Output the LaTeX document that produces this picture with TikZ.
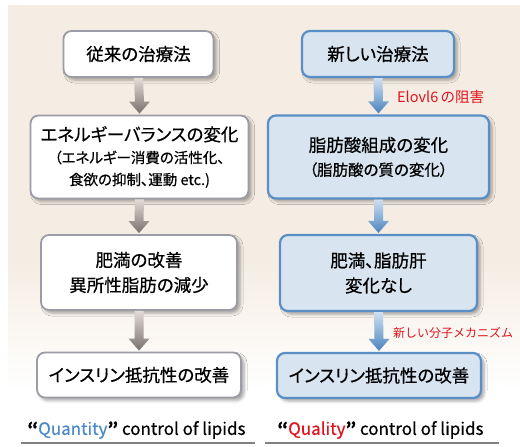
\documentclass[tikz,border=0pt]{standalone}
\usepackage{fontspec}
\setmainfont{Noto Sans CJK JP}
\newfontfamily\boxfont{Noto Sans CJK JP}[RawFeature=+palt, FakeBold=0.6]
\newfontfamily\capfont{Noto Sans CJK JP}[FakeBold=0.4]
\usetikzlibrary{calc,shadows.blur}
\definecolor{bg}{HTML}{F5EDE3}
\definecolor{lgray}{HTML}{9C9CA6}
\definecolor{rblue}{HTML}{5A8FC6}
\definecolor{rfill}{HTML}{D8E4F0}
\definecolor{labred}{HTML}{E0141E}
\definecolor{qblue}{HTML}{4A8AC8}
\definecolor{arlgt}{HTML}{E2DBD6}
\definecolor{ardrk}{HTML}{77706D}
\definecolor{brlgt}{HTML}{CFE0F0}
\definecolor{brdrk}{HTML}{4A84BE}
\newcommand\subf{\fontsize{14.5}{20}\selectfont}
\newcommand\subr{\fontsize{15.5}{21}\selectfont}
\newcommand\flowarrow[4]{%
  \shade[top color=#3, middle color=#4, bottom color=#4]
    ($(#1.south)+(-4.5,0)$) -- ($(#2.north)+(-4.5,-13)$) -- ($(#2.north)+(-10.5,-13)$)
    -- ($(#2.north)+(0,-1)$) -- ($(#2.north)+(10.5,-13)$) -- ($(#2.north)+(4.5,-13)$)
    -- ($(#1.south)+(4.5,0)$) -- cycle;}
\tikzset{
  basebox/.style={rounded corners=8pt, align=center, inner sep=0pt,
    font=\boxfont\fontsize{17.5}{25}\selectfont,
    blur shadow={shadow xshift=3pt, shadow yshift=-3pt, shadow opacity=35, shadow blur radius=3pt}},
  lbox/.style={basebox, draw=lgray, line width=1.8pt, fill=white},
  rbox/.style={basebox, draw=rblue, line width=2.2pt, fill=rfill},
  redlab/.style={anchor=west, text=labred, inner sep=0pt},
  caption/.style={inner sep=0pt, font=\capfont\fontsize{17}{20}\selectfont}
}
\begin{document}
\begin{tikzpicture}[x=1pt,y=-1pt]
\useasboundingbox (0,0) rectangle (520,447);
\fill[bg] (8,5) rectangle (520,260);
\shade[top color=bg, bottom color=white] (8,260) rectangle (520,390);

% left column
\node[lbox, minimum width=150, minimum height=46] (l1) at (138.5,54) {従来の治療法};
\node[lbox, minimum width=218, minimum height=83] (l2) at (139.5,157) {エネルギーバランスの変化\\[-3pt]\subf （エネルギー消費の活性化、\\[-3pt]\subf 食欲の抑制、運動 etc.)};
\node[lbox, minimum width=196, minimum height=75] (l3) at (139,272.5) {肥満の改善\\異所性脂肪の減少};
\node[lbox, minimum width=204, minimum height=45] (l4) at (139,375) {インスリン抵抗性の改善};

% right column
\node[rbox, minimum width=152, minimum height=46] (r1) at (378,54) {新しい治療法};
\node[rbox, minimum width=221, minimum height=83] (r2) at (378.5,157) {脂肪酸組成の変化\\[-1pt]\subr （脂肪酸の質の変化）};
\node[rbox, minimum width=197, minimum height=76] (r3) at (378.5,273) {肥満、脂肪肝\\変化なし};
\node[rbox, minimum width=204, minimum height=45] (r4) at (379,375.5) {インスリン抵抗性の改善};

% arrows
\flowarrow{l1}{l2}{arlgt}{ardrk}
\flowarrow{l2}{l3}{arlgt}{ardrk}
\flowarrow{l3}{l4}{arlgt}{ardrk}
\flowarrow{r1}{r2}{brlgt}{brdrk}
\flowarrow{r2}{r3}{brlgt}{brdrk}
\flowarrow{r3}{r4}{brlgt}{brdrk}

% red labels
\node[redlab, font=\fontsize{14.5}{16}\selectfont] (e6) at (397,97) {Elovl6\,の阻害};
\node[redlab, font=\fontsize{12}{14}\selectfont] (nm) at (393,333) {新しい分子メカニズム};

% captions
\node[caption] (qt) at (136.5,430) {{\bfseries “}\textcolor{qblue}{Quantity}{\bfseries ”} control of lipids};
\node[caption] (ql) at (380.5,430) {{\bfseries “}\textcolor{labred}{Quality}{\bfseries ”} control of lipids};
\draw[gray, line width=1.2pt] (21,443) -- (255,443);
\draw[gray, line width=1.2pt] (265,443) -- (499,443);
\end{tikzpicture}
\end{document}
